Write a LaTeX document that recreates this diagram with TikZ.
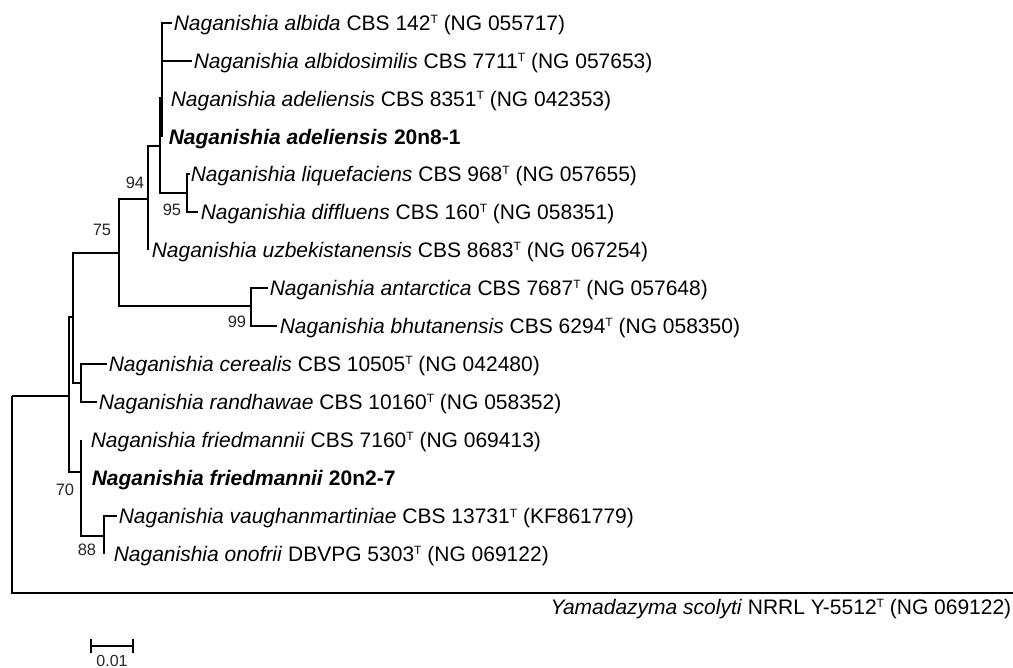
\documentclass[tikz,border=0pt]{standalone}
\usepackage{fontspec}
\setmainfont{Liberation Sans}
\newcommand\supT{\raisebox{6.5pt}{\fontsize{12}{12}\selectfont T}}
\begin{document}
\begin{tikzpicture}[x=1pt,y=-1pt,line width=1.5pt,
  tip/.style={inner sep=0pt,anchor=base west,font=\fontsize{21}{25}\selectfont},
  tipr/.style={inner sep=0pt,anchor=base east,font=\fontsize{21}{25}\selectfont},
  boot/.style={inner sep=0pt,font=\fontsize{16.5}{19}\selectfont,text=black!85},
  thickbr/.style={line width=2.6pt}]
\useasboundingbox (0,0) rectangle (1013,668);
% internal nodes
\coordinate (root) at (12,396);
\coordinate (n1) at (69,396);
\coordinate (n2) at (73,317);
\coordinate (nF) at (81,472);
\coordinate (n75) at (119,253);
\coordinate (nCR) at (81,383);
\coordinate (n94) at (148,199);
\coordinate (n99) at (251,306);
\coordinate (nA) at (160,146);
\coordinate (nAlb) at (162,98);
\coordinate (n95) at (187,193);
\coordinate (n88) at (104,536);
% tips
\coordinate (tAlb) at (172,23);
\coordinate (tAlbs) at (192,61);
\coordinate (tAde) at (162,99);
\coordinate (tAdeB) at (162,137);
\coordinate (tLiq) at (190,174);
\coordinate (tDif) at (198,212);
\coordinate (tUzb) at (148,250);
\coordinate (tAnt) at (268,288);
\coordinate (tBhu) at (277,326);
\coordinate (tCer) at (107,364);
\coordinate (tRan) at (97,402);
\coordinate (tFri) at (81,440);
\coordinate (tFriB) at (81,478);
\coordinate (tVau) at (117,516);
\coordinate (tOno) at (104,554);
\coordinate (tYam) at (1013,593);
% thick segments
\coordinate (fa) at (81,477);
\coordinate (fb) at (81,507);
\coordinate (aa) at (162,61);
\coordinate (ab) at (162,99);
% branches
\draw (root) |- (tYam);
\draw (root) -- (n1);
\draw (n1) |- (n2);
\draw (n1) |- (nF);
\draw (n2) |- (n75);
\draw (n2) |- (nCR);
\draw (nCR) |- (tCer);
\draw (nCR) |- (tRan);
\draw (n75) |- (n94);
\draw (n75) |- (n99);
\draw (n99) |- (tAnt);
\draw (n99) |- (tBhu);
\draw (n94) |- (nA);
\draw (n94) |- (tUzb);
\draw (nA) |- (nAlb);
\draw (nA) |- (n95);
\draw (nAlb) |- (tAlb);
\draw (nAlb) |- (tAlbs);
\draw (nAlb) |- (tAde);
\draw (nAlb) |- (tAdeB);
\draw (n95) |- (tLiq);
\draw (n95) |- (tDif);
\draw (nF) |- (tFri);
\draw (nF) |- (tFriB);
\draw (nF) |- (n88);
\draw (n88) |- (tVau);
\draw (n88) |- (tOno);
\draw[thickbr] (fa) -- (fb);
\draw[line width=2.2pt] (aa) -- (ab);
% tip labels
\node[tip] (lAlb) at (173,30.5) {\textit{Naganishia albida} CBS 142\supT{} (NG 055717)};
\node[tip] (lAlbs) at (193,68.5) {\textit{Naganishia albidosimilis} CBS 7711\supT{} (NG 057653)};
\node[tip] (lAde) at (170,106.5) {\textit{Naganishia adeliensis} CBS 8351\supT{} (NG 042353)};
\node[tip] (lAdeB) at (168,144.5) {\textbf{\textit{Naganishia adeliensis} 20n8-1}};
\node[tip] (lLiq) at (190,181.5) {\textit{Naganishia liquefaciens} CBS 968\supT{} (NG 057655)};
\node[tip] (lDif) at (200,219.5) {\textit{Naganishia diffluens} CBS 160\supT{} (NG 058351)};
\node[tip] (lUzb) at (151,257.5) {\textit{Naganishia uzbekistanensis} CBS 8683\supT{} (NG 067254)};
\node[tip] (lAnt) at (269,295.5) {\textit{Naganishia antarctica} CBS 7687\supT{} (NG 057648)};
\node[tip] (lBhu) at (279,333.5) {\textit{Naganishia bhutanensis} CBS 6294\supT{} (NG 058350)};
\node[tip] (lCer) at (108,371.5) {\textit{Naganishia cerealis} CBS 10505\supT{} (NG 042480)};
\node[tip] (lRan) at (98,409.5) {\textit{Naganishia randhawae} CBS 10160\supT{} (NG 058352)};
\node[tip] (lFri) at (90,447.5) {\textit{Naganishia friedmannii} CBS 7160\supT{} (NG 069413)};
\node[tip] (lFriB) at (91,485.5) {\textbf{\textit{Naganishia friedmannii} 20n2-7}};
\node[tip] (lVau) at (118,523.5) {\textit{Naganishia vaughanmartiniae} CBS 13731\supT{} (KF861779)};
\node[tip] (lOno) at (113,561.5) {\textit{Naganishia onofrii} DBVPG 5303\supT{} (NG 069122)};
\node[tipr] (lYam) at (1012,614) {\textit{Yamadazyma scolyti} NRRL Y-5512\supT{} (NG 069122)};
% bootstrap values
\node[boot] (b94) at (135,183) {94};
\node[boot] (b95) at (172,209.5) {95};
\node[boot] (b75) at (102,230) {75};
\node[boot] (b99) at (237,322) {99};
\node[boot] (b70) at (65,490) {70};
\node[boot] (b88) at (87,550) {88};
% scale bar
\coordinate (sL) at (91,646);
\coordinate (sR) at (133,646);
\draw (sL) -- (sR);
\draw ([yshift=7pt]sL) -- ([yshift=-7pt]sL);
\draw ([yshift=7pt]sR) -- ([yshift=-7pt]sR);
\node[inner sep=0pt,anchor=base,font=\fontsize{16}{19}\selectfont,text=black!85] (sLab) at (112,666) {0.01};
\end{tikzpicture}
\end{document}
